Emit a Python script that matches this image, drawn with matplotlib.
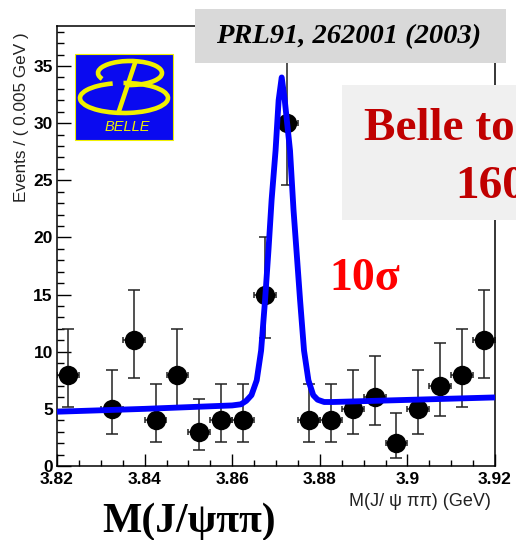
import matplotlib
matplotlib.use("Agg")
import matplotlib.pyplot as plt
from matplotlib.patches import Rectangle, Arc
from matplotlib.lines import Line2D
from matplotlib.transforms import IdentityTransform
from matplotlib.ticker import MultipleLocator

# ---- data ----
bin_width = 0.005
bin_centers = [3.8225, 3.8325, 3.8375, 3.8425, 3.8475, 3.8525, 3.8575, 3.8625,
               3.8675, 3.8725, 3.8775, 3.8825, 3.8875, 3.8925, 3.8975, 3.9025,
               3.9075, 3.9125, 3.9175]
counts = [8, 5, 11, 4, 8, 3, 4, 4, 15, 30, 4, 4, 5, 6, 2, 5, 7, 8, 11]
err_low_bound = [5.2, 2.8, 7.7, 2.1, 5.2, 1.4, 2.1, 2.1, 11.2, 24.6, 2.1, 2.1,
                 2.8, 3.6, 0.7, 2.8, 4.4, 5.2, 7.7]
err_high_bound = [12.0, 8.4, 15.4, 7.2, 12.0, 5.9, 7.2, 7.2, 20.0, 36.1, 7.2, 7.2,
                  8.4, 9.6, 4.6, 8.4, 10.8, 12.0, 15.4]

# fit curve points
fit_x = [3.820, 3.840, 3.860, 3.8620, 3.8632, 3.8644, 3.8656, 3.8666, 3.8675,
         3.8683, 3.8690, 3.8699, 3.8706, 3.8713, 3.8720, 3.8732, 3.8740, 3.8748,
         3.8755, 3.8764, 3.8774, 3.8785, 3.8795, 3.8810, 3.8830, 3.920]
fit_y = [4.75, 5.0, 5.3, 5.4, 5.7, 6.2, 7.5, 10.1, 14.5,
         19.0, 23.3, 27.6, 32.0, 34.0, 32.0, 27.6, 22.4, 18.2,
         14.5, 10.1, 7.5, 6.2, 5.8, 5.6, 5.6, 6.0]

x_ticks = [3.82, 3.84, 3.86, 3.88, 3.90, 3.92]
x_tick_labels = ["3.82", "3.84", "3.86", "3.88", "3.9", "3.92"]
y_ticks = [0, 5, 10, 15, 20, 25, 30, 35]

W, H = 516, 540
fig = plt.figure(figsize=(W / 100, H / 100), dpi=100)
fig.patch.set_facecolor("white")

ax = fig.add_axes([57 / W, 1 - 466 / H, 438 / W, 440 / H])
ax.set_xlim(3.82, 3.92)
ax.set_ylim(0, 38.5)

yerr_lo = [c - lo for c, lo in zip(counts, err_low_bound)]
yerr_hi = [hi - c for c, hi in zip(counts, err_high_bound)]
xerr = [bin_width / 2] * len(bin_centers)

ax.errorbar(bin_centers, counts, yerr=[yerr_lo, yerr_hi], fmt="none",
            ecolor="#222222", elinewidth=1.1, capsize=4.5, capthick=1.1, zorder=2)
ax.errorbar(bin_centers, counts, xerr=xerr, fmt="none",
            ecolor="#222222", elinewidth=1.1, capsize=2.5, capthick=1.1, zorder=2)
ax.plot(bin_centers, counts, "o", color="black", markersize=14, zorder=3,
        markeredgewidth=0)
ax.plot(fit_x, fit_y, color="#0000ff", linewidth=4.2, solid_joinstyle="round",
        solid_capstyle="butt", zorder=4)

ax.set_xticks(x_ticks)
ax.set_xticklabels(x_tick_labels)
ax.set_yticks(y_ticks)
ax.xaxis.set_minor_locator(MultipleLocator(0.005))
ax.yaxis.set_minor_locator(MultipleLocator(1))
ax.tick_params(axis="both", which="both", direction="in", top=False, right=False,
               width=1.0, color="black")
ax.tick_params(axis="x", which="major", length=8.6, pad=4)
ax.tick_params(axis="x", which="minor", length=4.3)
ax.tick_params(axis="y", which="major", length=10, pad=3)
ax.tick_params(axis="y", which="minor", length=5)
for lab in ax.get_xticklabels() + ax.get_yticklabels():
    lab.set_fontfamily("Liberation Sans")
    lab.set_fontweight("bold")
    lab.set_fontsize(12.5)
for sp in ax.spines.values():
    sp.set_linewidth(1.1)
    sp.set_color("black")

fy = lambda py: 1 - py / H
fx = lambda px: px / W

# axis labels
fig.text(fx(22), fy(32), "Events / ( 0.005 GeV )", rotation=90, ha="center",
         va="top", fontsize=12.3, family="Liberation Sans", color="#222222")
fig.text(fx(491), fy(502), "M(J/ ψ ππ) (GeV)", ha="right", va="center",
         fontsize=13, family="Liberation Sans", color="#222222")

# title box
fig.add_artist(Rectangle((fx(195), fy(63)), (506 - 195) / W, (63 - 9) / H,
                         transform=fig.transFigure, facecolor="#d9d9d9",
                         edgecolor="none", zorder=5))
fig.text(fx(349), fy(37), "PRL91, 262001 (2003)", ha="center", va="center",
         fontsize=20.5, family="Liberation Serif", fontweight="bold",
         style="italic", color="black", zorder=6)

# Belle box
fig.add_artist(Rectangle((fx(342), fy(220)), (W - 342) / W, (220 - 85) / H,
                         transform=fig.transFigure, facecolor="#f0f0f0",
                         edgecolor="none", zorder=5))
fig.text(fx(364), fy(140), "Belle to", ha="left", va="baseline", fontsize=34,
         family="Liberation Serif", fontweight="bold", color="#c00000", zorder=6)
fig.text(fx(455), fy(198), "160", ha="left", va="baseline", fontsize=34,
         family="Liberation Serif", fontweight="bold", color="#c00000", zorder=6)

# significance
fig.text(fx(329), fy(290), "10σ", ha="left", va="baseline", fontsize=33,
         family="Liberation Serif", fontweight="bold", color="#ff0000", zorder=6)

# bottom big label
fig.text(fx(102), fy(532), "M(J/ψππ)", ha="left", va="baseline", fontsize=30,
         family="Liberation Serif", fontweight="bold", color="black", zorder=6)

# Belle logo
idt = IdentityTransform()
fig.add_artist(Rectangle((75, H - 140), 98, 86, transform=idt,
                         facecolor="#0a0af0", edgecolor="#f0f000",
                         linewidth=0.8, zorder=5))
yel = "#f0f000"
fig.add_artist(Arc((130, H - 73), 64, 24, theta1=-110, theta2=192,
                   transform=idt, color=yel, linewidth=3.3, zorder=6))
fig.add_artist(Arc((124, H - 98), 88, 30, theta1=128, theta2=452,
                   transform=idt, color=yel, linewidth=3.3, zorder=6))
fig.add_artist(Line2D([135, 119], [H - 63, H - 111], transform=idt,
                      color=yel, linewidth=3.3, zorder=6))
fig.text(fx(127), fy(127), "BELLE", ha="center", va="center", fontsize=10.5,
         family="Liberation Sans", style="italic", color=yel, zorder=7)

fig.savefig("out.png", dpi=100)
